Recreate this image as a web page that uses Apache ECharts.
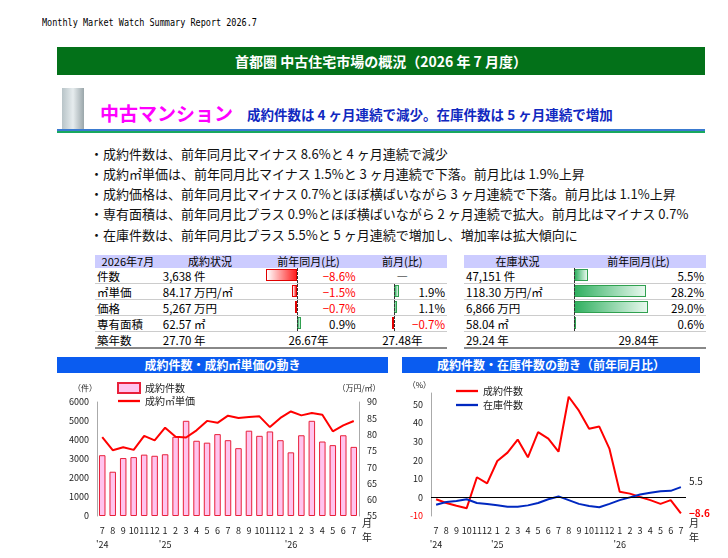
<!DOCTYPE html>
<html lang="ja">
<head>
<meta charset="UTF-8" />
<title>Monthly Market Watch</title>
<script src="https://cdn.jsdelivr.net/npm/echarts@6/dist/echarts.min.js"></script>
<style>
  body { margin: 0; width: 728px; height: 558px; background: #fff; font-family: "Noto Sans CJK JP", sans-serif; position: relative; overflow: hidden; }
  .abs { position: absolute; }
  .report { left: 42px; top: 17px; font-family: "DejaVu Sans Mono", monospace; font-size: 10px; transform: scaleX(0.85); transform-origin: left; }
  .green { left: 57px; top: 47px; width: 648px; height: 28px; background: #037119; color: #fff; font-weight: bold; font-size: 14px; text-align: center; line-height: 28px; }
  .bldg { left: 62px; top: 88px; width: 22px; height: 42px; background: linear-gradient(90deg, #b8c4c8, #e6ecee 50%, #9aa6aa); }
  .sub1 { left: 100px; top: 99px; color: #ff00ff; font-size: 19px; font-weight: bold; }
  .sub2 { left: 247px; top: 104px; color: #1028c0; font-size: 13.5px; font-weight: bold; }
  .rule1 { left: 57px; top: 129px; width: 648px; height: 2px; background: #3a7ad0; }
  .rule2 { left: 57px; top: 131px; width: 648px; height: 2px; background: #18a860; }
  .bul { left: 90px; font-size: 13px; color: #111; white-space: nowrap; }
  table { border-collapse: collapse; font-size: 11.5px; position: absolute; }
  td { height: 15px; line-height: 14px; padding: 0 2px; border-bottom: 1px solid #ccc; white-space: nowrap; position: relative; }
  th { background: #ccccff; font-weight: normal; height: 13px; line-height: 13px; font-size: 11px; padding: 0; }
  tr:last-child td { border-bottom: 2px solid #888; }
  .neg { color: #ff0000; }
  .r { text-align: right; } .c { text-align: center; }
  .bar { position: absolute; top: 1px; height: 12px; box-sizing: border-box; }
  .axis { position: absolute; top: 0; height: 15px; border-left: 1px dashed #333; }
  .hdr { height: 16px; background: #0a5cf0; color: #fff; font-weight: bold; font-size: 12px; text-align: center; line-height: 16px; }
  .ym { font-size: 10px; line-height: 14px; color: #222; }
</style>
</head>
<body>
<div class="abs report">Monthly Market Watch Summary Report 2026.7</div>
<div class="abs green">首都圏 中古住宅市場の概況（2026 年 7 月度）</div>
<div class="abs bldg"></div>
<div class="abs sub1">中古マンション</div>
<div class="abs sub2">成約件数は 4 ヶ月連続で減少。在庫件数は 5 ヶ月連続で増加</div>
<div class="abs rule1"></div><div class="abs rule2"></div>
<div class="abs bul" style="top:144px">・成約件数は、前年同月比マイナス 8.6%と 4 ヶ月連続で減少</div>
<div class="abs bul" style="top:164px">・成約㎡単価は、前年同月比マイナス 1.5%と 3 ヶ月連続で下落。前月比は 1.9%上昇</div>
<div class="abs bul" style="top:184px">・成約価格は、前年同月比マイナス 0.7%とほぼ横ばいながら 3 ヶ月連続で下落。前月比は 1.1%上昇</div>
<div class="abs bul" style="top:204px">・専有面積は、前年同月比プラス 0.9%とほぼ横ばいながら 2 ヶ月連続で拡大。前月比はマイナス 0.7%</div>
<div class="abs bul" style="top:225px">・在庫件数は、前年同月比プラス 5.5%と 5 ヶ月連続で増加し、増加率は拡大傾向に</div>

<table id="t1" style="left:95px; top:255px; width:352px"></table>
<table id="t2" style="left:464px; top:255px; width:242px"></table>

<div class="abs hdr" style="left:57px; top:357px; width:331px">成約件数・成約㎡単価の動き</div>
<div class="abs hdr" style="left:402px; top:357px; width:298px">成約件数・在庫件数の動き（前年同月比）</div>
<div id="c1" class="abs" style="left:50px; top:373px; width:345px; height:185px"></div>
<div id="c2" class="abs" style="left:395px; top:373px; width:333px; height:185px"></div>
<div class="abs ym" style="left:362px; top:516px">月<br>年</div>
<div class="abs ym" style="left:689px; top:516px">月<br>年</div>

<script>
  // 月ラベル
  var months = ["7", "8", "9", "10", "11", "12", "1", "2", "3", "4", "5", "6", "7", "8", "9", "10", "11", "12", "1", "2", "3", "4", "5", "6", "7"];
  var years = { 0: "'24", 6: "'25", 18: "'26" };

  // 成約件数・成約㎡単価
  var counts = [3200, 2330, 3050, 3100, 3230, 3170, 3250, 4170, 5010, 3960, 3860, 4310, 3990, 3570, 4490, 4220, 4450, 3990, 3350, 4250, 5010, 3920, 3730, 4250, 3638];
  var unitPrice = [79.2, 75.2, 76.1, 75.3, 79.6, 78.2, 82.1, 79.3, 79.1, 81.3, 84.2, 83.6, 85.8, 85.1, 85.4, 85.6, 82.3, 85.1, 87.1, 85.9, 86.6, 86.1, 81.0, 82.8, 84.17];

  // 前年同月比
  var contractYoY = [-1.0, -3.0, -4.5, -5.8, 10.8, 7.5, 19.5, 24.0, 31.0, 21.5, 35.0, 31.5, 24.5, 54.0, 46.5, 36.8, 38.0, 26.0, 3.0, 2.0, 0.2, -1.5, -3.5, -1.5, -8.6];
  var stockYoY = [-4.0, -2.5, -2.0, -1.0, -3.0, -3.5, -4.2, -5.0, -5.0, -4.3, -3.0, -1.0, 0.5, -1.5, -3.5, -4.6, -5.3, -3.5, -1.5, 0.0, 1.5, 2.5, 3.3, 3.5, 5.5];

  // 表
  var rowLabels = ["件数", "㎡単価", "価格", "専有面積", "築年数"];
  var contractVals = ["3,638 件", "84.17 万円/㎡", "5,267 万円", "62.57 ㎡", "27.70 年"];
  var contractYoYTbl = [-8.6, -1.5, -0.7, 0.9];
  var contractMoM = [null, 1.9, 1.1, -0.7];
  var ageCmp = ["26.67年", "27.48年"];
  var stockVals = ["47,151 件", "118.30 万円/㎡", "6,866 万円", "58.04 ㎡", "29.24 年"];
  var stockYoYTbl = [5.5, 28.2, 29.0, 0.6];
  var stockAge = "29.84年";

  function barCell(v, axisX, scale, w) {
    if (v === null) return '<td class="c" style="width:' + w + 'px">―</td>';
    var len = Math.abs(v) * scale;
    var bg = v < 0 ? "linear-gradient(90deg,#fff,#ff2020)" : "linear-gradient(90deg,#30b060,#e8f8ee)";
    var bc = v < 0 ? "#e00000" : "#30a050";
    var left = v < 0 ? axisX - len : axisX;
    return '<td class="r ' + (v < 0 ? "neg" : "") + '" style="width:' + w + 'px">' +
      '<div class="bar" style="left:' + left + 'px;width:' + Math.max(len, 2) + 'px;background:' + bg + ';border:1px solid ' + bc + '"></div>' +
      '<div class="axis" style="left:' + axisX + 'px"></div>' +
      '<span style="position:relative">' + (v < 0 ? "−" + Math.abs(v) : v.toFixed(1)) + '%</span></td>';
  }

  var h1 = '<tr><th>2026年7月</th><th>成約状況</th><th>前年同月(比)</th><th>前月(比)</th></tr>';
  var h2 = '<tr><th>在庫状況</th><th>前年同月(比)</th></tr>';
  for (var i = 0; i < rowLabels.length; i++) {
    h1 += '<tr><td style="width:62px">' + rowLabels[i] + '</td><td style="width:95px">' + contractVals[i] + '</td>';
    h2 += '<tr><td style="width:104px">' + stockVals[i] + '</td>';
    if (i < 4) {
      h1 += barCell(contractYoYTbl[i], 38, 3.7, 95) + barCell(contractMoM[i], 36, 2.7, 86);
      h2 += barCell(stockYoYTbl[i], 3, 2.55, 134);
    } else {
      h1 += '<td class="c">' + ageCmp[0] + '</td><td class="c">' + ageCmp[1] + '</td>';
      h2 += '<td class="c">' + stockAge + '</td>';
    }
    h1 += '</tr>'; h2 += '</tr>';
  }
  document.getElementById("t1").innerHTML = h1;
  document.getElementById("t2").innerHTML = h2;

  var font = "Noto Sans CJK JP";
  var lineIcon = "path://M0,4L24,4L24,6.5L0,6.5Z";
  var xAxis = {
    type: "category", data: months,
    axisTick: { show: false }, axisLine: { show: false },
    axisLabel: {
      interval: 0, color: "#222", fontSize: 9, fontFamily: font, margin: 8, lineHeight: 14,
      formatter: function (v, idx) { return years[idx] ? v + "\n" + years[idx] : v; }
    }
  };

  var c1 = echarts.init(document.getElementById("c1"));
  c1.setOption({
    textStyle: { fontFamily: font },
    grid: { left: 47, right: 36, top: 29, bottom: 42 },
    legend: {
      left: 62, top: 4, orient: "vertical", itemGap: 2, itemWidth: 22, itemHeight: 10,
      textStyle: { fontSize: 10, color: "#222" },
      data: [{ name: "成約件数", icon: "rect" }, { name: "成約㎡単価", icon: lineIcon }]
    },
    xAxis: xAxis,
    yAxis: [
      { type: "value", min: 0, max: 6000, interval: 1000, name: "（件）", nameGap: 10,
        nameTextStyle: { fontSize: 8, color: "#222", align: "right" },
        axisLabel: { fontSize: 9, color: "#222", formatter: function (v) { return String(v); } },
        splitLine: { show: false },
        axisLine: { show: true, lineStyle: { color: "#aaa" } } },
      { type: "value", min: 55, max: 90, interval: 5, name: "（万円/㎡）", nameGap: 10,
        nameTextStyle: { fontSize: 8, color: "#222" },
        axisLabel: { fontSize: 9, color: "#222" }, splitLine: { show: false },
        axisLine: { show: true, lineStyle: { color: "#aaa" } } }
    ],
    series: [
      { name: "成約件数", type: "bar", data: counts, barWidth: "62%",
        itemStyle: { color: "#ffc4ee", borderColor: "#e8203a", borderWidth: 1 } },
      { name: "成約㎡単価", type: "line", yAxisIndex: 1, data: unitPrice, symbol: "none",
        lineStyle: { color: "#ff0000", width: 2 }, itemStyle: { color: "#ff0000" } }
    ]
  });

  var c2 = echarts.init(document.getElementById("c2"));
  c2.setOption({
    textStyle: { fontFamily: font },
    grid: { left: 36, right: 42, top: 20, bottom: 42 },
    legend: {
      left: 56, top: 8, orient: "vertical", itemGap: 4, itemWidth: 22, itemHeight: 10,
      textStyle: { fontSize: 10, color: "#222" },
      data: [{ name: "成約件数", icon: lineIcon }, { name: "在庫件数", icon: lineIcon }]
    },
    xAxis: xAxis,
    yAxis: {
      type: "value", min: -10, max: 56, interval: 10, name: "（%）", nameGap: 4,
      nameTextStyle: { fontSize: 8, color: "#222", align: "right" },
      axisLabel: { fontSize: 9, showMaxLabel: false,
        color: function (v) { return v < 0 ? "#ff0000" : "#222"; } },
      splitLine: { show: false }, axisLine: { show: true, lineStyle: { color: "#aaa" } }
    },
    series: [
      { name: "成約件数", type: "line", data: contractYoY, symbol: "none",
        lineStyle: { color: "#ff0000", width: 2 }, itemStyle: { color: "#ff0000" },
        endLabel: { show: true, formatter: "−8.6", color: "#ff0000", fontSize: 10, fontWeight: "bold" },
        markLine: { silent: true, symbol: "none", label: { show: false },
          lineStyle: { color: "#000", type: "solid", width: 1 }, data: [{ yAxis: 0 }] } },
      { name: "在庫件数", type: "line", data: stockYoY, symbol: "none",
        lineStyle: { color: "#0028c0", width: 2 }, itemStyle: { color: "#0028c0" },
        endLabel: { show: true, formatter: "5.5", color: "#222", fontSize: 10, offset: [0, -6] } }
    ]
  });
</script>
</body>
</html>
